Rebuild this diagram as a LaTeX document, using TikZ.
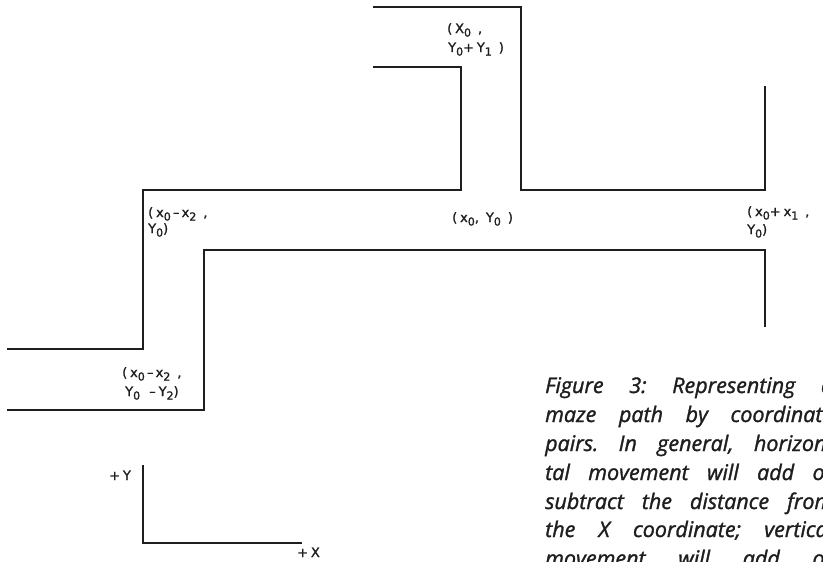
\documentclass[tikz,border=0pt]{standalone}
\usepackage{fontspec}
\newfontfamily\labfont[LetterSpace=22,FakeBold=1.2]{DejaVu Sans}
\newfontfamily\capfont[FakeBold=1.4]{Open Sans}
\definecolor{ink}{HTML}{1E1E1E}
\newcommand{\sbs}[1]{\raisebox{-0.5ex}{\fontsize{11}{11}\selectfont #1}}
\tikzset{
  wall/.style={line width=2.2pt, draw=ink, line join=miter},
  lab/.style={font=\labfont\fontsize{13}{15}\selectfont, inner sep=0pt, anchor=base west, text=ink},
  capline/.style={font=\capfont\itshape\fontsize{21.5}{28}\selectfont\frenchspacing, inner sep=0pt, anchor=base west, text=ink},
}
\begin{document}
\begin{tikzpicture}[x=1pt,y=-1pt]
\useasboundingbox (0,0) rectangle (823,562);
\clip (0,0) rectangle (823,562);
\fill[white] (0,0) rectangle (823,562);
% maze corridors
\coordinate (a1) at (373,7);   \coordinate (a2) at (521,7);
\coordinate (a3) at (521,190); \coordinate (a4) at (765,190);
\coordinate (a5) at (765,86);
\coordinate (b1) at (373,67);  \coordinate (b2) at (461,67);
\coordinate (b3) at (461,190); \coordinate (b4) at (143,190);
\coordinate (b5) at (143,349); \coordinate (b6) at (7,349);
\coordinate (c1) at (765,327); \coordinate (c2) at (765,250);
\coordinate (c3) at (204,250); \coordinate (c4) at (204,410);
\coordinate (c5) at (7,410);
\draw[wall] (a1) -- (a2) -- (a3) -- (a4) -- (a5);
\draw[wall] (b1) -- (b2) -- (b3) -- (b4) -- (b5) -- (b6);
\draw[wall] (c1) -- (c2) -- (c3) -- (c4) -- (c5);
% axes
\coordinate (ay) at (143,465); \coordinate (ao) at (143,543); \coordinate (ax) at (302,543);
\draw[wall] (ay) -- (ao) -- (ax);
\node[lab] (py) at (109,480) {+Y};
\node[lab] (px) at (297,557) {+X};
% labels
\node[lab] (t1) at (447,33) {(X\sbs{0} ,};
\node[lab] (t2) at (448,52) {Y\sbs{0}+Y\sbs{1} )};
\node[lab] (l1) at (148,217) {(x\sbs{0}\,–\,x\sbs{2} ,};
\node[lab] (l2) at (148,233) {Y\sbs{0})};
\node[lab] (m1) at (452,222) {(x\sbs{0}, Y\sbs{0} )};
\node[lab] (r1) at (747,216) {(x\sbs{0}+x\sbs{1} ,};
\node[lab] (r2) at (747,234) {Y\sbs{0})};
\node[lab] (d1) at (122,377) {(x\sbs{0}\,–\,x\sbs{2} ,};
\node[lab] (d2) at (125,396) {Y\sbs{0} \,–Y\sbs{2})};
% caption
\node[capline] (k1) at (545,393) {\makebox[288pt][s]{Figure 3: Representing a}};
\node[capline] (k2) at (545,422) {\makebox[288pt][s]{maze path by coordinate}};
\node[capline] (k3) at (545,451) {\makebox[288pt][s]{pairs. In general, horizon-}};
\node[capline] (k4) at (545,480) {\makebox[288pt][s]{tal movement will add or}};
\node[capline] (k5) at (545,509) {\makebox[288pt][s]{subtract the distance from}};
\node[capline] (k6) at (545,537) {\makebox[288pt][s]{the X coordinate; vertical}};
\node[capline] (k7) at (545,566) {\makebox[288pt][s]{movement will add or}};
\end{tikzpicture}
\end{document}
